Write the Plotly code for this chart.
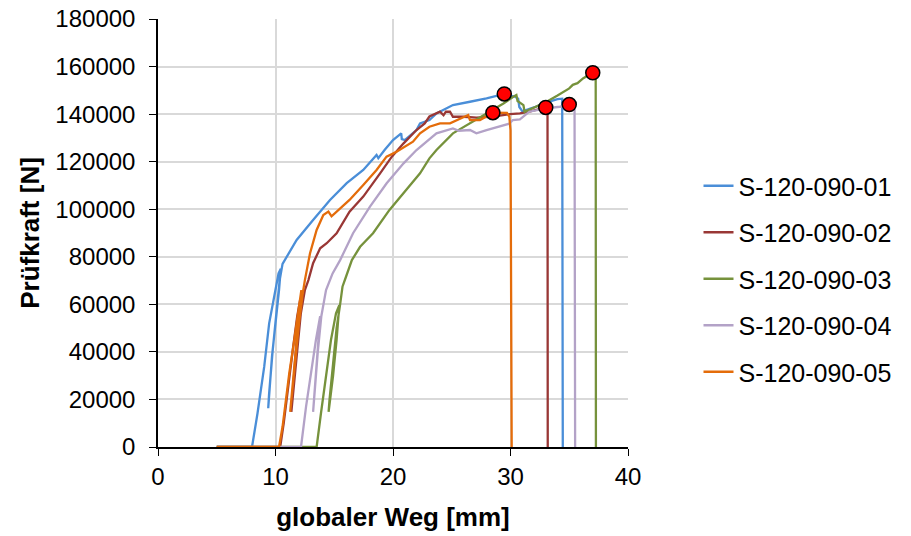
import plotly.graph_objects as go

names = ["S-120-090-01", "S-120-090-02", "S-120-090-03", "S-120-090-04", "S-120-090-05"]

x01 = [5.0, 8.0, 8.47, 9.04, 9.46, 9.89, 10.26, 10.45, 10.3, 10.0, 9.7, 9.38, 9.45, 9.75, 10.05, 10.35, 10.6,
       10.95, 11.8, 13.2, 14.64, 16.06, 17.47, 18.6, 18.75, 19.3, 20.0, 20.7, 20.75, 21.0, 22.0, 22.3, 23.1,
       23.7, 25.1, 26.55, 27.96, 29.47, 30.0, 30.4, 30.65, 30.75, 31.0, 32.0, 33.0, 34.0, 34.4, 34.45]
y01 = [0, 0, 14200, 33800, 52000, 63200, 73000, 75000, 66000, 52000, 38000, 16300, 22000, 40000, 55000, 70000, 77000,
       80000, 87100, 95500, 103900, 111000, 116500, 122800, 121500, 125000, 129100, 131900, 129500, 129100, 133300, 136100, 137500,
       140300, 143800, 145200, 146600, 148500, 147800, 147300, 146500, 143000, 141200, 142800, 144800, 146300, 146500, 0]

x02 = [5.0, 10.4, 10.7, 11.1, 11.5, 11.85, 12.1, 11.8, 11.55, 11.35, 11.45, 11.8, 12.15, 12.5, 12.8, 13.2, 13.8,
       14.36, 15.2, 16.3, 17.47, 18.9, 19.9, 20.9, 22.0, 22.7, 23.1, 24.0, 24.3, 24.5, 24.85, 25.1, 26.0, 27.1,
       28.5, 29.96, 30.8, 31.6, 32.2, 33.0, 33.15, 33.17]
y02 = [0, 0, 10000, 27000, 42000, 55000, 62000, 45000, 30000, 14800, 20000, 38000, 56000, 66000, 70200, 77300, 83600,
       85700, 89900, 99000, 105300, 115100, 122100, 127700, 133300, 136100, 139000, 141000, 139500, 141000, 141000, 138900, 138900, 138500,
       138900, 140000, 140300, 141000, 141700, 142800, 142000, 0]

x03 = [5.0, 13.5, 13.87, 14.3, 14.72, 15.15, 15.43, 15.2, 14.9, 14.52, 14.6, 14.9, 15.2, 15.5, 15.7, 16.0, 16.28,
       16.5, 17.2, 18.3, 19.7, 21.1, 22.3, 23.1, 23.7, 25.1, 26.55, 27.96, 29.4, 30.24, 30.5, 30.6, 30.9, 31.1,
       31.2, 32.0, 33.0, 34.0, 34.5, 35.0, 35.3, 35.7, 36.2, 36.6, 37.0, 37.25, 37.27]
y03 = [0, 0, 14200, 31000, 45000, 56200, 59700, 45000, 30000, 14800, 20000, 35000, 50000, 60000, 67400, 71600, 75800,
       78600, 84200, 89900, 99700, 108100, 115100, 121400, 124900, 131900, 136100, 140300, 144500, 147300, 148000, 145500, 144500, 143800,
       141000, 142800, 145000, 147800, 149400, 150800, 152300, 153000, 155100, 156200, 157400, 157000, 0]

x04 = [5.0, 12.17, 12.6, 13.0, 13.44, 13.8, 13.6, 13.4, 13.2, 13.3, 13.6, 13.9, 14.3, 14.86, 15.5, 16.6, 18.04,
       19.46, 20.9, 22.0, 23.0, 23.7, 25.1, 25.6, 26.55, 27.1, 27.96, 29.4, 29.9, 30.2, 30.8, 31.6, 32.4, 33.0,
       34.2, 35.0, 35.45, 35.5]
y04 = [0, 0, 17000, 31000, 45000, 55000, 42000, 28000, 14800, 22000, 40000, 55000, 66000, 73000, 78600, 89900, 101100,
       110900, 119300, 124900, 129100, 131900, 134000, 133000, 133300, 131900, 133300, 135400, 136000, 137500, 137800, 141000, 141700, 142400,
       143100, 143800, 143500, 0]

x05 = [5.0, 10.3, 10.6, 11.17, 11.6, 12.0, 12.2, 11.9, 11.55, 11.25, 11.3, 11.65, 12.0, 12.3, 12.5, 12.94, 13.5,
       14.07, 14.5, 14.77, 15.2, 16.3, 17.47, 18.6, 19.45, 20.3, 21.7, 22.3, 23.1, 24.0, 24.85, 26.0, 26.4, 26.55,
       27.4, 28.5, 29.4, 29.7, 29.9, 30.0, 30.1]
y05 = [0, 0, 8500, 31000, 45000, 60400, 66000, 50000, 32000, 14800, 17000, 35000, 52000, 64000, 70200, 81500, 91300,
       97600, 99000, 97000, 99000, 103900, 110200, 116500, 122100, 124200, 128400, 131900, 134700, 136100, 136100, 138900, 139600, 137500,
       137500, 140600, 140300, 140500, 138900, 133300, 0]

# maximum-load markers
max_x = [29.47, 33.0, 37.0, 35.0, 28.5]
max_y = [148500, 142800, 157400, 144000, 140600]

colors = ["#4A8ED8", "#993735", "#76923C", "#B3A2C7", "#E46C0A"]

xs = [x01, x02, x03, x04, x05]
ys = [y01, y02, y03, y04, y05]

fig = go.Figure()
for i in range(5):
    fig.add_trace(go.Scatter(
        x=xs[i], y=ys[i], mode="lines", name=names[i],
        line=dict(color=colors[i], width=2.3), legendgroup=names[i]))

fig.add_trace(go.Scatter(
    x=max_x, y=max_y, mode="markers", showlegend=False,
    marker=dict(color="#FF0000", size=14, line=dict(color="black", width=1.5))))

font_family = "Liberation Sans, Arial, sans-serif"
fig.update_layout(
    width=911, height=536,
    margin=dict(l=158, r=283, t=19, b=89),
    paper_bgcolor="white", plot_bgcolor="white",
    font=dict(family=font_family, size=24, color="black"),
    showlegend=True,
    legend=dict(x=1.15, xanchor="left", y=0.3925, yanchor="middle",
                font=dict(size=25), tracegroupgap=11, traceorder="grouped",
                bgcolor="rgba(0,0,0,0)", borderwidth=0),
    xaxis=dict(range=[0, 40], dtick=10, showgrid=True, gridcolor="#D9D9D9", gridwidth=2,
               showline=True, linecolor="black", linewidth=1.5, ticks="outside", ticklen=7,
               tickcolor="black", zeroline=False, tickfont=dict(size=24), automargin=False,
               title=dict(text="<b>globaler Weg [mm]</b>", font=dict(size=26), standoff=19)),
    yaxis=dict(range=[0, 180000], dtick=20000, showgrid=True, gridcolor="#D9D9D9", gridwidth=2,
               showline=True, linecolor="black", linewidth=1.5, ticks="outside", ticklen=7,
               tickcolor="black", zeroline=False, tickformat="d", tickfont=dict(size=24),
               ticklabelstandoff=9, automargin=False,
               title=dict(text="<b>Prüfkraft [N]</b>", font=dict(size=26), standoff=8)),
)

fig.write_html("out.html")
